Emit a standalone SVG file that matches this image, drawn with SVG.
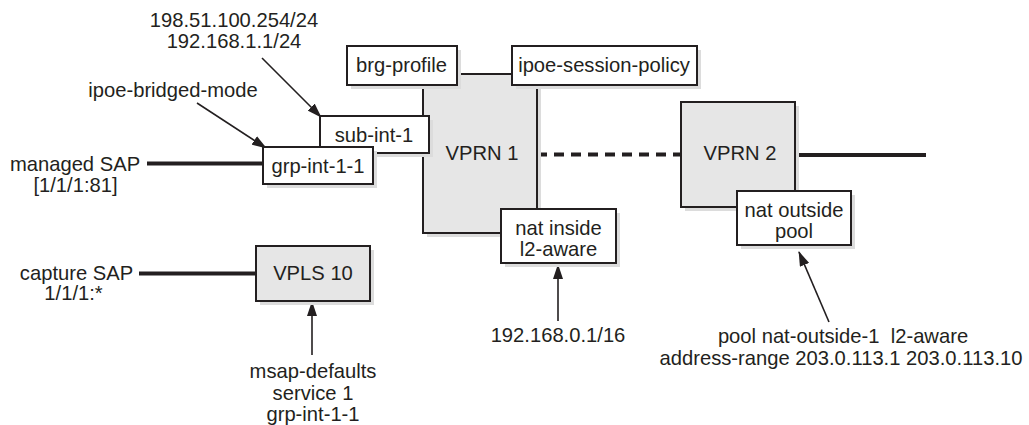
<svg xmlns="http://www.w3.org/2000/svg" width="1029" height="425" viewBox="0 0 1029 425">
<defs>
<style>
text{font-family:"Liberation Sans",Arial,Helvetica,sans-serif;font-size:20.2px;fill:#231f20;text-anchor:middle}
.box{fill:#fff;stroke:#231f20;stroke-width:2}
.svc{fill:#e6e6e6;stroke:#231f20;stroke-width:2}
.sh{fill:#dcdcdc;stroke:none}
.thick{stroke:#231f20;stroke-width:4;fill:none}
.dash{stroke:#231f20;stroke-width:4;fill:none;stroke-dasharray:10 7}
.arr{stroke:#231f20;stroke-width:1.6;fill:none;marker-end:url(#ah)}
</style>
<marker id="ah" markerUnits="userSpaceOnUse" markerWidth="15" markerHeight="10" refX="14" refY="5" orient="auto">
<path d="M0,0 L15,5 L0,10 z" fill="#231f20"/>
</marker>
</defs>
<rect width="1029" height="425" fill="#fff"/>

<g id="connectors">
<line class="thick" x1="147" y1="163.5" x2="263" y2="163.5"/>
<line class="thick" x1="139" y1="273.5" x2="256" y2="273.5"/>
<line class="dash" x1="537" y1="154.5" x2="681" y2="154.5"/>
<line class="thick" x1="795" y1="155" x2="926" y2="155"/>
<line class="arr" x1="197" y1="103" x2="266" y2="148"/>
<line class="arr" x1="262" y1="58" x2="321" y2="117"/>
<line class="arr" x1="312" y1="355" x2="312" y2="302"/>
<line class="arr" x1="558" y1="321" x2="558" y2="265"/>
<line class="arr" x1="829" y1="322" x2="799" y2="252"/>
</g>

<g id="vprn1">
<rect class="sh" x="427" y="78" width="114" height="159"/>
<rect class="svc" x="423" y="74" width="114" height="159"/>
<text x="482" y="160">VPRN 1</text>
</g>
<g id="brg-profile">
<rect class="sh" x="351" y="50" width="110" height="39"/>
<rect class="box" x="347" y="46" width="110" height="39"/>
<text x="401.5" y="72">brg-profile</text>
</g>
<g id="ipoe-session-policy">
<rect class="sh" x="516" y="50" width="185" height="39"/>
<rect class="box" x="512" y="46" width="185" height="39"/>
<text x="604" y="72">ipoe-session-policy</text>
</g>
<g id="sub-int-1">
<rect class="sh" x="324" y="120" width="109" height="37"/>
<rect class="box" x="320" y="116" width="109" height="37"/>
<text x="374" y="142">sub-int-1</text>
</g>
<g id="grp-int-1-1">
<rect class="sh" x="267" y="151" width="110" height="37"/>
<rect class="box" x="263" y="147" width="110" height="37"/>
<text x="318" y="173">grp-int-1-1</text>
</g>
<g id="nat-inside">
<rect class="sh" x="505" y="213" width="115" height="54"/>
<rect class="box" x="501" y="209" width="115" height="54"/>
<text x="558.5" y="235">nat inside</text>
<text x="558.5" y="256">l2-aware</text>
</g>
<g id="vprn2">
<rect class="sh" x="685" y="106" width="114" height="105"/>
<rect class="svc" x="681" y="102" width="114" height="105"/>
<text x="740" y="160">VPRN 2</text>
</g>
<g id="nat-outside">
<rect class="sh" x="741" y="195" width="114" height="54"/>
<rect class="box" x="737" y="191" width="114" height="54"/>
<text x="794" y="217">nat outside</text>
<text x="794" y="238">pool</text>
</g>
<g id="vpls10">
<rect class="sh" x="260" y="250" width="114" height="55"/>
<rect class="svc" x="256" y="246" width="114" height="55"/>
<text x="313" y="280">VPLS 10</text>
</g>

<g id="labels">
<text x="234" y="27">198.51.100.254/24</text>
<text x="234" y="48">192.168.1.1/24</text>
<text x="173" y="97">ipoe-bridged-mode</text>
<text x="75" y="171">managed SAP</text>
<text x="75.5" y="192">[1/1/1:81]</text>
<text x="76.5" y="280">capture SAP</text>
<text x="73.5" y="300">1/1/1:*</text>
<text x="313" y="378">msap-defaults</text>
<text x="313" y="400">service 1</text>
<text x="313" y="421">grp-int-1-1</text>
<text x="558" y="342">192.168.0.1/16</text>
<text x="843" y="343" xml:space="preserve">pool nat-outside-1  l2-aware</text>
<text x="841" y="365">address-range 203.0.113.1 203.0.113.10</text>
</g>
</svg>
